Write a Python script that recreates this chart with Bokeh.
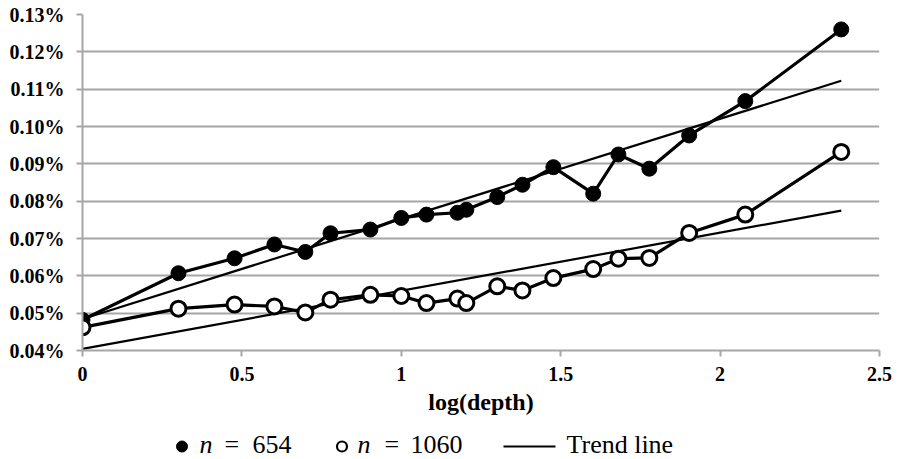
import numpy as np
from bokeh.plotting import figure
from bokeh.layouts import column
from bokeh.models import FixedTicker, PrintfTickFormatter, Range1d
from bokeh.core.properties import value
from bokeh.embed import file_html
from bokeh.resources import INLINE

# log10(depth) values
log_depth = [0.0, 0.301, 0.477, 0.602, 0.699, 0.778, 0.903, 1.0, 1.079, 1.176,
             1.204, 1.301, 1.380, 1.477, 1.602, 1.681, 1.778, 1.903, 2.079, 2.380]
# values in percent
n654 = [0.0482, 0.0607, 0.0647, 0.0684, 0.0664, 0.0714, 0.0724, 0.0755, 0.0764, 0.0769,
        0.0777, 0.0811, 0.0844, 0.0891, 0.0820, 0.0925, 0.0887, 0.0976, 0.1068, 0.1260]
n1060 = [0.0462, 0.0512, 0.0523, 0.0518, 0.0502, 0.0536, 0.0549, 0.0546, 0.0527, 0.0539,
         0.0527, 0.0572, 0.0561, 0.0594, 0.0618, 0.0646, 0.0648, 0.0715, 0.0764, 0.0932]
y_ticks = [0.04, 0.05, 0.06, 0.07, 0.08, 0.09, 0.10, 0.11, 0.12, 0.13]
x_ticks = [0, 0.5, 1, 1.5, 2, 2.5]
legend_var = ["n", "n"]
legend_eq = ["=", "="]
legend_num = ["654", "1060"]
legend_trend = "Trend line"

SERIF = "Liberation Serif"

p = figure(width=897, height=420, output_backend="svg", toolbar_location=None,
           x_range=Range1d(0, 2.5), y_range=Range1d(0.04, 0.13),
           min_border_left=82, min_border_right=18, min_border_top=14, min_border_bottom=70)
p.outline_line_color = None
p.background_fill_color = "white"

# axes
p.xaxis.ticker = FixedTicker(ticks=x_ticks)
p.yaxis.ticker = FixedTicker(ticks=y_ticks)
p.yaxis.formatter = PrintfTickFormatter(format="%.2f%%")
for ax in (p.xaxis[0], p.yaxis[0]):
    ax.axis_line_color = "#a6a6a6"
    ax.axis_line_width = 2
    ax.major_tick_line_color = "#a6a6a6"
    ax.major_tick_line_width = 2
    ax.major_tick_out = 6
    ax.major_tick_in = 0
    ax.minor_tick_line_color = None
    ax.major_label_text_font = SERIF
    ax.major_label_text_font_style = "bold"
    ax.major_label_text_font_size = "20px"
    ax.major_label_text_color = "black"
p.yaxis.major_label_standoff = 12
p.xaxis.major_label_standoff = 10
p.xaxis.axis_label = "log(depth)"
p.xaxis.axis_label_text_font = SERIF
p.xaxis.axis_label_text_font_style = "bold"
p.xaxis.axis_label_text_font_size = "24px"
p.xaxis.axis_label_text_color = "black"
p.xaxis.axis_label_standoff = 5

p.xgrid.grid_line_color = None
p.ygrid.grid_line_color = "#a6a6a6"
p.ygrid.grid_line_width = 2

# trend lines (least squares, as in the spreadsheet)
xa = np.array(log_depth)
for ys in (n654, n1060):
    k, b = np.polyfit(xa, np.array(ys), 1)
    p.line([xa[0], xa[-1]], [b + k * xa[0], b + k * xa[-1]], line_color="black", line_width=2.2)

p.line(log_depth, n654, line_color="black", line_width=3.2)
p.scatter(log_depth, n654, size=15, fill_color="black", line_color="black")
p.line(log_depth, n1060, line_color="black", line_width=3.2)
p.scatter(log_depth, n1060, size=15, fill_color="white", line_color="black", line_width=3)

# legend strip below the chart; its x coordinates are page pixels (frame aligned 82..879)
lg = figure(width=897, height=39, output_backend="svg", toolbar_location=None,
            x_range=Range1d(82, 879), y_range=Range1d(0, 39),
            min_border_left=82, min_border_right=18, min_border_top=0, min_border_bottom=0)
lg.axis.visible = False
lg.grid.grid_line_color = None
lg.outline_line_color = None
TXT = 15
MID = 13
FS = "26px"
lg.scatter([181.5], [MID], size=11, fill_color="black", line_color="black")
lg.scatter([341.5], [MID], size=10, fill_color="white", line_color="black", line_width=2.2)
lg.line([503, 555], [MID, MID], line_color="black", line_width=1.8)
lg.text([199, 357], [TXT, TXT], text=legend_var,
        text_font=value(SERIF), text_font_style="italic", text_font_size=FS,
        text_baseline="middle", text_color="black")
lg.text([224, 384], [TXT, TXT], text=legend_eq,
        text_font=value(SERIF), text_font_size=FS,
        text_baseline="middle", text_color="black")
lg.text([252, 410], [TXT, TXT], text=legend_num,
        text_font=value(SERIF), text_font_size=FS,
        text_baseline="middle", text_color="black")
lg.text([566], [TXT], text=[legend_trend],
        text_font=value(SERIF), text_font_size=FS,
        text_baseline="middle", text_color="black")

layout = column(p, lg, spacing=0)
out = file_html(layout, INLINE)
open("out.html", "w").write(out)
